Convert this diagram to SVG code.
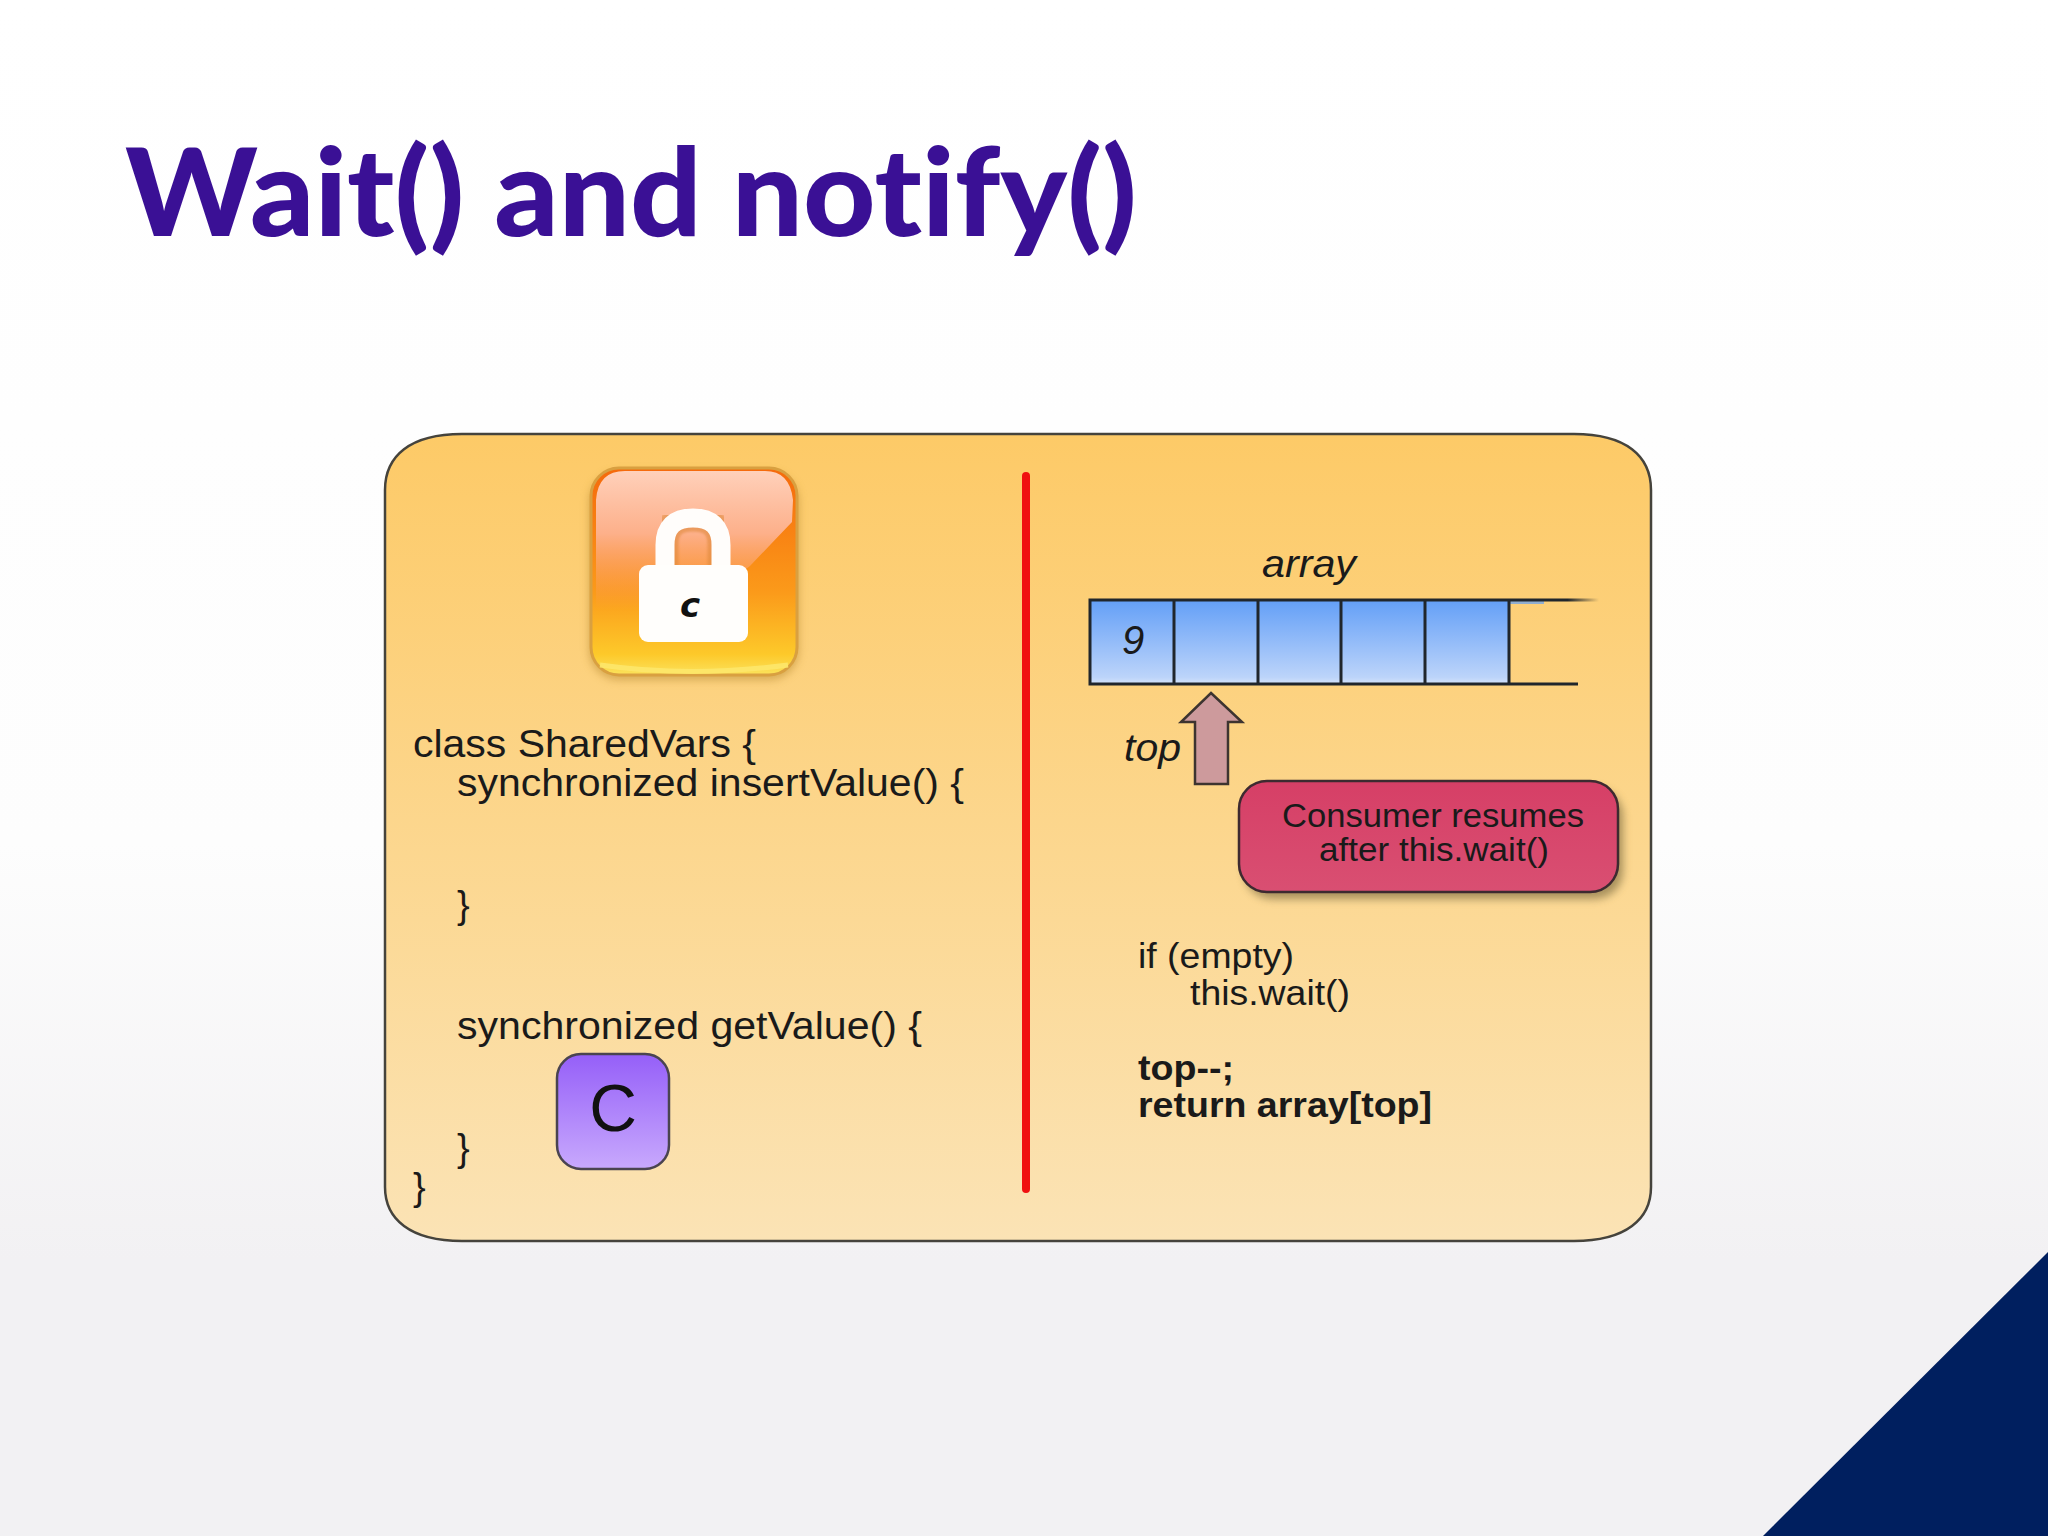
<svg xmlns="http://www.w3.org/2000/svg" width="2048" height="1536" viewBox="0 0 2048 1536">
<defs>
<linearGradient id="bg" x1="0" y1="0" x2="0" y2="1"><stop offset="0" stop-color="#ffffff"/><stop offset="0.55" stop-color="#fdfdfd"/><stop offset="0.82" stop-color="#f2f1f3"/><stop offset="1" stop-color="#f2f1f3"/></linearGradient>
<linearGradient id="panel" x1="0" y1="0" x2="0" y2="1"><stop offset="0" stop-color="#fdca67"/><stop offset="1" stop-color="#fbe3b5"/></linearGradient>
<linearGradient id="cell" x1="0" y1="0" x2="0" y2="1"><stop offset="0" stop-color="#639ff7"/><stop offset="0.92" stop-color="#bcd4fa"/><stop offset="1" stop-color="#d5e4fb"/></linearGradient>
<linearGradient id="lockbg" x1="0" y1="0" x2="0" y2="1"><stop offset="0" stop-color="#f56a0c"/><stop offset="0.6" stop-color="#fb9a1a"/><stop offset="0.9" stop-color="#fdc92a"/><stop offset="1" stop-color="#fbe25c"/></linearGradient>
<linearGradient id="gloss" x1="0" y1="0" x2="0" y2="1"><stop offset="0" stop-color="#ffd0ba"/><stop offset="0.45" stop-color="#fdb08a"/><stop offset="1" stop-color="#fca060" stop-opacity="0"/></linearGradient>
<linearGradient id="violet" x1="0" y1="0" x2="0" y2="1"><stop offset="0" stop-color="#955ff8"/><stop offset="1" stop-color="#c8a9fd"/></linearGradient>
<linearGradient id="red" x1="0" y1="0" x2="0" y2="1"><stop offset="0" stop-color="#d63f66"/><stop offset="1" stop-color="#d94f72"/></linearGradient>
<linearGradient id="fadeTop" x1="0" y1="0" x2="1" y2="0"><stop offset="0" stop-color="#20262c"/><stop offset="0.65" stop-color="#20262c"/><stop offset="1" stop-color="#20262c" stop-opacity="0"/></linearGradient>
<filter id="soft" x="-10%" y="-10%" width="120%" height="125%"><feGaussianBlur stdDeviation="4"/></filter>
<filter id="blur1" x="-5%" y="-5%" width="110%" height="110%"><feGaussianBlur stdDeviation="1"/></filter>
</defs>
<style>
.t{font-family:"Liberation Sans",Arial,sans-serif;fill:#1a1a1a;font-size:38px}
.b{font-weight:bold}
.i{font-style:italic}
.div{stroke:#20262c;stroke-width:3;fill:none}
.m{font-size:35px}
.s{font-size:33px}
</style>
<rect width="2048" height="1536" fill="url(#bg)"/>
<polygon id="corner" points="1763,1536 2048,1252 2048,1536" fill="#001f5f"/>
<text id="title" x="125" y="236" font-family="Lato,'Noto Sans',sans-serif" font-weight="900" font-size="122" fill="#3a1095" style="font-variant-ligatures:none" textLength="1012" lengthAdjust="spacingAndGlyphs">Wait() and notify()</text>
<g id="panel-box"><path d="M462,434 H1574 C1626,434 1651,456 1651,490 V1187 C1651,1219 1626,1241 1574,1241 H462 C410,1241 385,1219 385,1187 V490 C385,456 410,434 462,434 Z" fill="url(#panel)" stroke="#45433c" stroke-width="2.5"/></g>
<g id="divider"><line x1="1026" y1="476" x2="1026" y2="1189" stroke="#f01010" stroke-width="8" stroke-linecap="round"/></g>
<g id="lock">
<rect x="589" y="472" width="210" height="208" rx="30" fill="#b88a30" opacity="0.55" filter="url(#soft)"/>
<rect x="591" y="468" width="206" height="207" rx="28" fill="url(#lockbg)" stroke="#d9a040" stroke-width="3"/>
<path d="M596,500 Q598,471 625,471 H765 Q790,471 793,500 L792,522 Q770,545 750,566 L690,610 H596 Z" fill="url(#gloss)"/>
<path d="M615,472 H775" stroke="#fff" stroke-width="4" opacity="0.85" filter="url(#blur1)"/>
<path d="M600,665 Q690,678 788,665" stroke="#fde76a" stroke-width="5" fill="none" opacity="0.9"/>
<path d="M665,566 V545 Q665,518 693,518 Q721,518 721,545 V566" fill="none" stroke="#e08a3c" stroke-width="27" opacity="0.6" filter="url(#blur1)"/>
<path d="M640,562 H746" stroke="#e08a3c" stroke-width="8" opacity="0.75" filter="url(#blur1)"/>
<path d="M665,570 V545 Q665,518 693,518 Q721,518 721,545 V570" fill="none" stroke="#fffdfb" stroke-width="19"/>
<rect x="639" y="565" width="109" height="77" rx="9" fill="#fffefc"/>
<text x="690" y="617" font-family="'DejaVu Sans',sans-serif" font-style="italic" font-weight="bold" font-size="34" text-anchor="middle" fill="#111">c</text>
</g>
<g id="code-left">
<text class="t" x="413" y="757" textLength="343" lengthAdjust="spacingAndGlyphs">class SharedVars {</text>
<text class="t" x="457" y="796" textLength="507" lengthAdjust="spacingAndGlyphs">synchronized insertValue() {</text>
<text class="t" x="457" y="918">}</text>
<text class="t" x="457" y="1039" textLength="465" lengthAdjust="spacingAndGlyphs">synchronized getValue() {</text>
<text class="t" x="457" y="1161">}</text>
<text class="t" x="413" y="1200">}</text>
</g>
<g id="token-c">
<rect x="557" y="1054" width="112" height="115" rx="24" fill="url(#violet)" stroke="#4a4450" stroke-width="2.5"/>
<text x="613" y="1131" font-family="'Liberation Sans',Arial,sans-serif" font-size="66" text-anchor="middle" fill="#111">C</text>
</g>
<text id="array-label" class="t i" x="1262" y="577" textLength="94" lengthAdjust="spacingAndGlyphs">array</text>
<g id="array">
<rect x="1090" y="600" width="419" height="84" fill="url(#cell)"/>
<rect x="1510" y="601" width="34" height="3" fill="#639ff7" opacity="0.7"/>
<rect x="1509" y="598.5" width="90" height="3" fill="url(#fadeTop)"/>
<path class="div" d="M1509,600 H1090 V684 H1578"/>
<path class="div" d="M1174,600 V684 M1258,600 V684 M1341,600 V684 M1425,600 V684 M1509,600 V684"/>
<text class="t i" x="1133" y="654" text-anchor="middle" style="font-size:40px">9</text>
</g>
<g id="top-pointer">
<polygon points="1211,693 1242,722 1228,722 1228,784 1195,784 1195,722 1181,722" fill="#cd9a9c" stroke="#3d3430" stroke-width="2.5"/>
<text class="t i" x="1124" y="761" textLength="57" lengthAdjust="spacingAndGlyphs">top</text>
</g>
<g id="callout">
<rect x="1244" y="788" width="379" height="111" rx="28" fill="#7a6a40" opacity="0.65" filter="url(#soft)"/>
<rect x="1239" y="781" width="379" height="111" rx="28" fill="url(#red)" stroke="#3d2a30" stroke-width="2.5"/>
<text class="t s" x="1433" y="827" text-anchor="middle" textLength="302" lengthAdjust="spacingAndGlyphs">Consumer resumes</text>
<text class="t s" x="1434" y="861" text-anchor="middle" textLength="230" lengthAdjust="spacingAndGlyphs">after this.wait()</text>
</g>
<g id="code-right">
<text class="t m" x="1138" y="968" textLength="156" lengthAdjust="spacingAndGlyphs">if (empty)</text>
<text class="t m" x="1190" y="1005" textLength="160" lengthAdjust="spacingAndGlyphs">this.wait()</text>
<text class="t b m" x="1138" y="1080" textLength="96" lengthAdjust="spacingAndGlyphs">top--;</text>
<text class="t b m" x="1138" y="1117" textLength="294" lengthAdjust="spacingAndGlyphs">return array[top]</text>
</g>
</svg>
